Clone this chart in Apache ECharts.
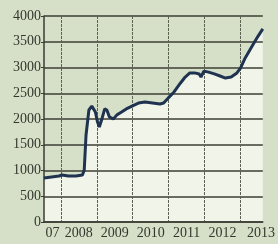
<!DOCTYPE html>
<html>
<head>
<meta charset="utf-8">
<script src="https://cdn.jsdelivr.net/npm/echarts@6/dist/echarts.min.js"></script>
<style>
    html, body { margin: 0; padding: 0; background: #d6e0c9; }
    #chart { width: 278px; height: 244px; }
</style>
</head>
<body>
<div id="chart"></div>
<script>
// decimal years and index values
const years = [2007.53, 2007.74, 2007.95, 2008.03, 2008.21, 2008.42, 2008.60, 2008.65, 2008.70, 2008.78,
    2008.86, 2008.91, 2008.96, 2009.02, 2009.07, 2009.15, 2009.22, 2009.28, 2009.35, 2009.46,
    2009.56, 2009.69, 2009.82, 2009.98, 2010.16, 2010.34, 2010.55, 2010.76, 2010.86, 2010.99,
    2011.15, 2011.33, 2011.46, 2011.59, 2011.72, 2011.85, 2011.90, 2011.98, 2012.11, 2012.27,
    2012.43, 2012.58, 2012.74, 2012.90, 2013.00, 2013.13, 2013.26, 2013.39, 2013.49, 2013.62];
const values = [854, 874, 893, 913, 893, 893, 913, 1010, 1690, 2175,
    2250, 2270, 2135, 1940, 1845, 2020, 2195, 2175, 2040, 2000,
    2080, 2135, 2195, 2250, 2310, 2330, 2310, 2290, 2310, 2410,
    2525, 2700, 2815, 2895, 2895, 2875, 2815, 2930, 2910, 2875,
    2835, 2795, 2815, 2895, 2990, 3185, 3340, 3495, 3610, 3750];

const yearLines = [2008, 2009, 2010, 2011, 2012, 2013];
const xLabelPos = [2007.77, 2008.5, 2009.5, 2010.5, 2011.5, 2012.5, 2013.57];
const xLabels = ['07', '2008', '2009', '2010', '2011', '2012', '2013'];

const textFont = {
    fontFamily: 'Liberation Sans Narrow',
    fontSize: 14,
    color: '#34372d'
};

const points = years.map((y, i) => [y, values[i]]);

const chart = echarts.init(document.getElementById('chart'));
chart.setOption({
    backgroundColor: '#d6e0c9',
    animation: false,
    grid: { left: 44, right: 0, top: 16, bottom: 22 },
    xAxis: {
        type: 'value',
        min: 2007.53,
        max: 2013.62,
        z: 2,
        axisLine: { show: true, lineStyle: { color: '#3a3d33', width: 1.5 } },
        axisTick: { show: false, customValues: yearLines },
        splitLine: {
            show: true,
            lineStyle: { color: '#5d6152', width: 1, type: [3, 1] }
        },
        axisLabel: Object.assign({
            customValues: xLabelPos,
            margin: 4,
            formatter: v => xLabels[xLabelPos.indexOf(v)]
        }, textFont)
    },
    yAxis: {
        type: 'value',
        min: 0,
        max: 4000,
        interval: 500,
        z: 2,
        axisLine: { show: true, lineStyle: { color: '#3a3d33', width: 1.5 } },
        axisTick: { show: true, length: 3, lineStyle: { color: '#3a3d33' } },
        splitLine: { lineStyle: { color: '#3c3f35', width: 1.5 } },
        axisLabel: Object.assign({ margin: 3, formatter: v => String(v) }, textFont)
    },
    series: [{
        // pale fill below the line, kept under the grid lines
        type: 'line',
        data: points,
        showSymbol: false,
        lineStyle: { width: 0 },
        areaStyle: { color: '#f1f4e9', opacity: 1 },
        z: 1
    }, {
        type: 'line',
        data: points,
        showSymbol: false,
        lineStyle: { color: '#1f3350', width: 3 },
        z: 3
    }]
});
</script>
</body>
</html>
